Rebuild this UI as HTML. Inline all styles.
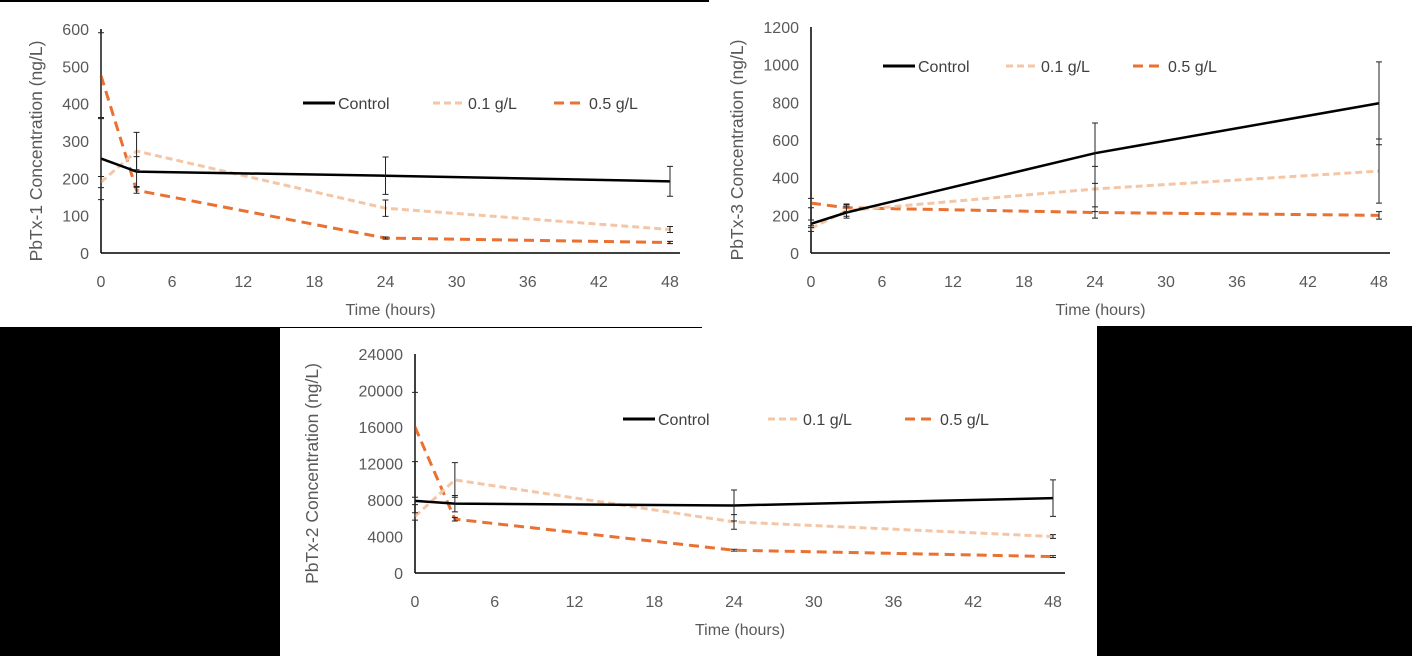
<!DOCTYPE html>
<html><head><meta charset="utf-8"><style>
html,body{margin:0;padding:0;background:#000;}
svg{display:block;}
text{font-family:"Liberation Sans Narrow","Liberation Sans",sans-serif;fill:#595959;}
.t{font-size:16px;}
.yt{font-family:"Liberation Sans",sans-serif;font-size:17.5px;}
.lg{font-size:16px;fill:#404040;}
</style></head><body>
<svg id="root" width="1412" height="656" xmlns="http://www.w3.org/2000/svg">
<rect x="0" y="0" width="1412" height="656" fill="#000"/>
<rect x="0" y="2" width="709" height="325" fill="#fff"/>
<rect x="709" y="0" width="703" height="326" fill="#fff"/>
<rect x="280" y="328" width="817" height="328" fill="#fff"/>
<rect x="702" y="326" width="395" height="2" fill="#fff"/>
</svg>
<script>
const times = [0, 3, 24, 48];
const xTicks = [0, 6, 12, 18, 24, 30, 36, 42, 48];
const seriesNames = ["Control", "0.1 g/L", "0.5 g/L"];

const p1Control = [253, 218, 207, 192];
const p1Low = [190, 273, 120, 63];
const p1High = [475, 168, 40, 28];
const p1ControlErr = [110, 40, 50, 40];
const p1LowErr = [15, 50, 22, 8];
const p1HighErr = [115, 8, 3, 3];
const p1YTicks = [0, 100, 200, 300, 400, 500, 600];

const p3Control = [155, 215, 530, 795];
const p3Low = [130, 225, 340, 435];
const p3High = [265, 240, 215, 200];
const p3ControlErr = [20, 30, 160, 220];
const p3LowErr = [15, 30, 120, 170];
const p3HighErr = [25, 20, 30, 20];
const p3YTicks = [0, 200, 400, 600, 800, 1000, 1200];

const p2Control = [7900, 7600, 7400, 8200];
const p2Low = [6200, 10200, 5600, 4000];
const p2High = [16000, 5900, 2500, 1800];
const p2ControlErr = [400, 900, 1700, 2000];
const p2LowErr = [400, 1900, 800, 200];
const p2HighErr = [3800, 200, 100, 100];
const p2YTicks = [0, 4000, 8000, 12000, 16000, 20000, 24000];

const NS = "http://www.w3.org/2000/svg";
const root = document.getElementById('root');
const colors = ["#000000", "#f4c6a6", "#e97132"];
const dashes = ["", "7,4", "10,6"];

function mk(tag, attrs, parent) {
  const e = document.createElementNS(NS, tag);
  for (const k in attrs) e.setAttribute(k, attrs[k]);
  (parent || root).appendChild(e);
  return e;
}

function chart(cfg, vals, errs, yTicks) {
  const g = mk('g', {});
  
  
  const ymax = yTicks[yTicks.length - 1];
  const sx = t => cfg.x0 + (t / 48) * (cfg.x48 - cfg.x0);
  const sy = v => cfg.y0 - (v / ymax) * (cfg.y0 - cfg.ytop);
  const ya = mk('line', {x1: cfg.x0, y1: cfg.ytop, x2: cfg.x0, y2: cfg.y0, stroke: '#000', 'stroke-width': 1.5}, g);
  
  
  const xa = mk('line', {x1: cfg.x0, y1: cfg.y0, x2: cfg.xend, y2: cfg.y0, stroke: '#000', 'stroke-width': 1.5}, g);
  
  
  yTicks.forEach(v => {
    const t = mk('text', {x: cfg.x0 - 12, y: sy(v) + 6, 'text-anchor': 'end', class: 't'}, g);
    t.textContent = v;
    
    
  });
  xTicks.forEach(v => {
    const t = mk('text', {x: sx(v), y: cfg.y0 + 34, 'text-anchor': 'middle', class: 't'}, g);
    t.textContent = v;
    
    
  });
  const xt = mk('text', {x: (cfg.x0 + cfg.xend) / 2, y: cfg.y0 + 62, 'text-anchor': 'middle', class: 't'}, g);
  xt.textContent = 'Time (hours)';
  
  
  const cy = (cfg.ytop + cfg.y0) / 2 + 10;
  const yt = mk('text', {x: cfg.ytx, y: cy, 'text-anchor': 'middle', class: 'yt', transform: `rotate(-90 ${cfg.ytx} ${cy})`}, g);
  yt.textContent = cfg.ytitle;
  
  
  [2, 1, 0].forEach(i => {
    const pts = times.map((t, j) => sx(t) + ',' + sy(vals[i][j])).join(' ');
    const pl = mk('polyline', {points: pts, fill: 'none', stroke: colors[i], 'stroke-width': i === 0 ? 2.5 : 3, 'stroke-dasharray': dashes[i]}, g);
    
    
  });
  [0, 1, 2].forEach(i => {
    times.forEach((t, j) => {
      const x = sx(t), v = vals[i][j], e = errs[i][j];
      const y1 = sy(Math.min(v + e, ymax)), y2 = sy(Math.max(v - e, 0));
      const eb = mk('path', {d: `M${x},${y1}V${y2}M${x - 3},${y1}H${x + 3}M${x - 3},${y2}H${x + 3}`, stroke: '#222', 'stroke-width': 1, fill: 'none'}, g);
      
      
    });
  });
  seriesNames.forEach((n, i) => {
    const lx = cfg.legX[i];
    const ll = mk('line', {x1: lx, y1: cfg.legY, x2: lx + 32, y2: cfg.legY, stroke: colors[i], 'stroke-width': 3, 'stroke-dasharray': dashes[i]}, g);
    
    
    const lt = mk('text', {x: lx + 35, y: cfg.legY + 6, class: 'lg'}, g);
    lt.textContent = n;
    
    
  });
}

chart({name: 'chart-pbtx1', x0: 101, x48: 670, xend: 680, y0: 253, ytop: 29, ytx: 42, ytitle: 'PbTx-1 Concentration (ng/L)', legX: [303, 433, 554], legY: 103},
  [p1Control, p1Low, p1High], [p1ControlErr, p1LowErr, p1HighErr], p1YTicks);
chart({name: 'chart-pbtx3', x0: 811, x48: 1379, xend: 1390, y0: 253, ytop: 27, ytx: 743, ytitle: 'PbTx-3 Concentration (ng/L)', legX: [883, 1006, 1133], legY: 66},
  [p3Control, p3Low, p3High], [p3ControlErr, p3LowErr, p3HighErr], p3YTicks);
chart({name: 'chart-pbtx2', x0: 415, x48: 1053, xend: 1065, y0: 573, ytop: 354, ytx: 318, ytitle: 'PbTx-2 Concentration (ng/L)', legX: [623, 768, 905], legY: 419},
  [p2Control, p2Low, p2High], [p2ControlErr, p2LowErr, p2HighErr], p2YTicks);
</script>
</body></html>
